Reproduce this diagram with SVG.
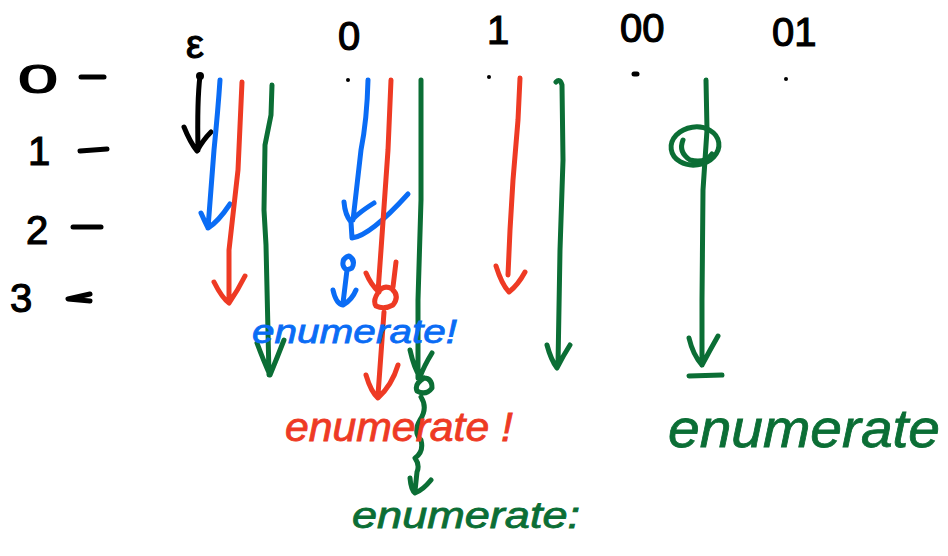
<svg xmlns="http://www.w3.org/2000/svg" width="948" height="556" viewBox="0 0 948 556">
<style>
.s{fill:none;stroke-linecap:round;stroke-linejoin:round;stroke-width:5}
.k{stroke:#000}.b{stroke:#0a6cf5}.r{stroke:#ee3a24}.g{stroke:#0b6e35}
.t{font-family:"Liberation Sans",Arial,sans-serif;font-style:italic;stroke-width:0.8}
.lab{font-family:"Liberation Sans",Arial,sans-serif;font-size:40px;fill:#000;stroke:#000;stroke-width:1.2}
</style>
<rect width="948" height="556" fill="#fff"/>
<g id="row-labels">
<text class="lab" x="18" y="93" textLength="40" lengthAdjust="spacingAndGlyphs">0</text>
<path class="s k" d="M81 77 L104 77" stroke-width="6"/>
<text class="lab" x="28" y="165">1</text>
<path class="s k" d="M80 151 L107 149" stroke-width="7"/>
<text class="lab" x="26" y="244">2</text>
<path class="s k" d="M73 227 L101 227" stroke-width="5"/>
<text class="lab" x="10" y="312">3</text>
<path class="s k" d="M90 294 L68 299 L90 301" stroke-width="5"/>
</g>
<g id="col-labels">
<text class="lab" x="186" y="58" font-size="38">ε</text>
<text class="lab" x="338" y="50" font-size="36">0</text>
<text class="lab" x="487" y="44" font-size="36">1</text>
<text class="lab" x="620" y="42" font-size="30">00</text>
<text class="lab" x="772" y="46" font-size="32">01</text>
<circle cx="348" cy="80" r="2"/><circle cx="489" cy="77" r="2"/><path class="s k" d="M634 74 L637 74" stroke-width="3"/><circle cx="786" cy="79" r="2"/>
</g>
<g id="connectors">
<path class="s k" d="M200 76 Q197 100 198 150 M184 127 Q190 142 197 151 Q203 140 211 132" stroke-width="6"/>
<circle cx="200" cy="76" r="4"/>
<path class="s b" d="M220 80 Q218 110 214 150 L208 228 M201 213 Q205 222 208 228 Q218 222 230 204"/>
<path class="s r" d="M242 82 L238 170 L229 250 L229 302 M214 282 Q222 298 229 303 Q238 290 245 276"/>
<path class="s g" d="M272 85 L271 115 L265 145 L264 210 L266 245 L269 375 M257 343 Q264 362 270 375 Q277 358 284 340"/>
<path class="s b" d="M368 80 Q367 120 361 150 L353 220 M344 202 Q345 215 351 222 Q355 215 374 203 M351 222 L352 238 Q370 236 408 194"/>
<path class="s b" d="M349 256 Q342 258 343 265 Q345 272 352 268 Q356 260 349 256 M347 270 L343 303 M333 290 Q336 304 343 305 Q352 300 356 290"/>
<path class="s r" d="M391 80 L388 150 L381 250 L378 292 M366 273 Q371 285 379 292 M396 262 L393 287 M380 290 Q372 300 376 306 Q384 310 393 305 Q400 296 392 289 Q384 284 378 292 M384 312 L378 395 M366 375 Q371 392 378 398 Q392 385 398 365"/>
<path class="s g" d="M421 80 L421 200 L418 300 L418 378 M410 350 Q414 368 420 377 Q424 366 432 353 M424 378 Q414 384 417 391 Q426 396 432 388 Q432 378 424 378 M421 397 Q428 408 420 420 Q413 432 421 440 Q424 452 415 458 Q420 465 417 472 L415 491 M410 478 Q411 490 415 493 Q423 490 431 480" stroke-width="4"/>
<path class="s r" d="M520 78 L518 120 L513 180 L510 230 L508 275 M496 266 Q502 285 509 292 Q518 285 525 272"/>
<path class="s g" d="M556 82 Q560 78 562 85 L563 160 L560 250 L558 365 M547 345 Q551 360 557 368 Q563 356 570 345"/>
<path class="s g" d="M706 80 L707 130 L703 190 L702 300 L702 365 M689 338 Q693 355 702 365 Q710 350 718 336"/>
<ellipse class="s g" cx="695" cy="146" rx="24" ry="19" transform="rotate(-8 695 146)" stroke-width="6"/>
<path class="s g" d="M683 140 Q678 152 690 160 Q705 164 712 154"/>
<path class="s g" d="M689 376 L722 375" stroke-width="9"/>
</g>
<g id="texts">
<text class="t" x="252" y="343" font-size="34" fill="#0a6cf5" stroke="#0a6cf5" textLength="205" lengthAdjust="spacingAndGlyphs">enumerate!</text>
<text class="t" x="285" y="441" font-size="40" fill="#ee3a24" stroke="#ee3a24" textLength="228" lengthAdjust="spacingAndGlyphs">enumerate !</text>
<text class="t" x="352" y="528" font-size="36" fill="#0b6e35" stroke="#0b6e35" textLength="228" lengthAdjust="spacingAndGlyphs">enumerate:</text>
<text class="t" x="668" y="447" font-size="54" fill="#0b6e35" stroke="#0b6e35" textLength="272" lengthAdjust="spacingAndGlyphs">enumerate</text>
</g>
</svg>
